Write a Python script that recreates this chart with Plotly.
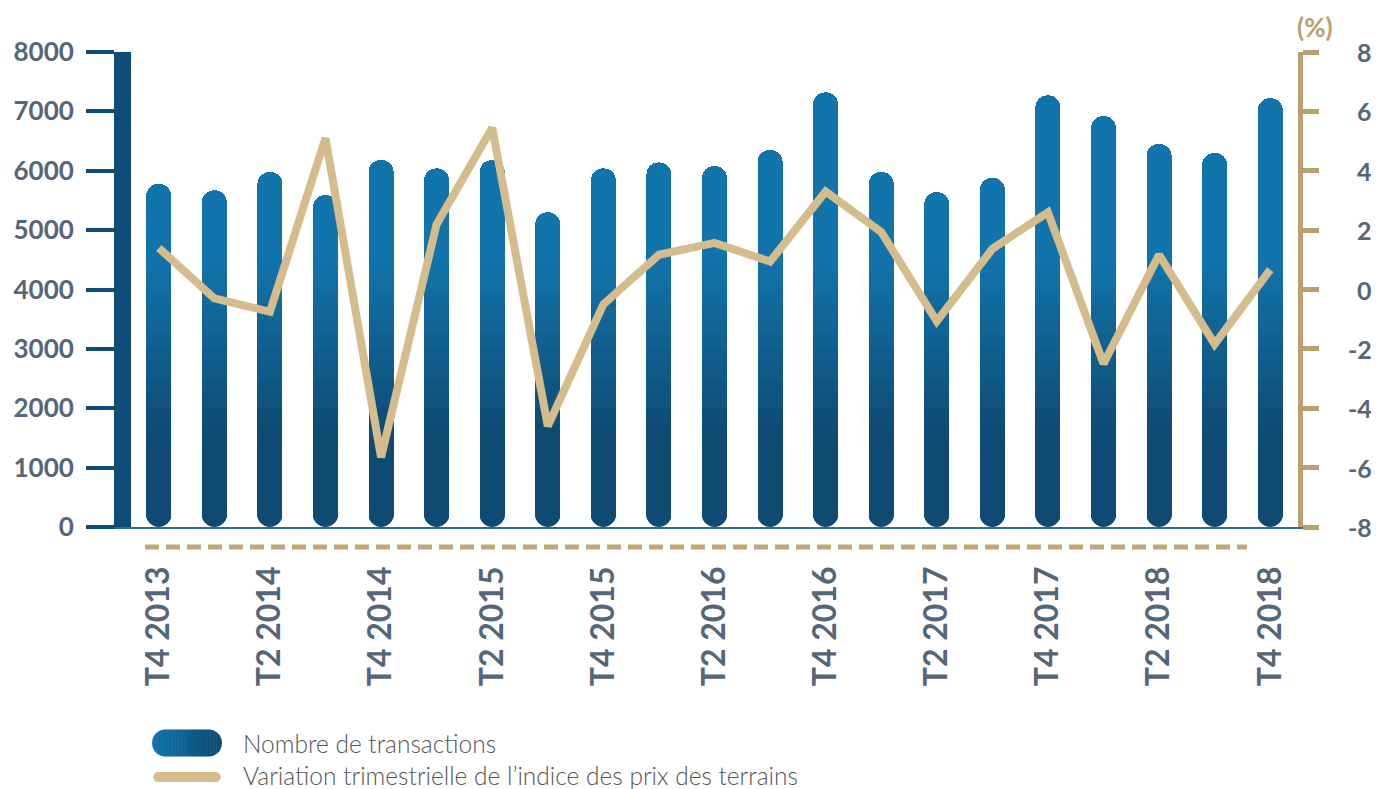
import math
import plotly.graph_objects as go

# ---------------- data ----------------
QUARTERS = ["T4 2013", "T1 2014", "T2 2014", "T3 2014", "T4 2014", "T1 2015", "T2 2015",
            "T3 2015", "T4 2015", "T1 2016", "T2 2016", "T3 2016", "T4 2016", "T1 2017",
            "T2 2017", "T3 2017", "T4 2017", "T1 2018", "T2 2018", "T3 2018", "T4 2018"]
TRANSACTIONS = [5780, 5670, 5980, 5590, 6180, 6040, 6180, 5300, 6040, 6140, 6080,
                6350, 7320, 5980, 5640, 5880, 7270, 6920, 6450, 6300, 7220]
PRICE_VAR = [1.4, -0.3, -0.75, 5.1, -5.65, 2.2, 5.45, -4.6, -0.5, 1.17, 1.57,
             0.94, 3.3, 1.94, -1.07, 1.37, 2.6, -2.5, 1.17, -1.84, 0.67]
X_TICKS = QUARTERS[::2]
LEFT_TICKS = [0, 1000, 2000, 3000, 4000, 5000, 6000, 7000, 8000]
RIGHT_TICKS = [-8, -6, -4, -2, 0, 2, 4, 6, 8]
LEGEND_BARS = "Nombre de transactions"
LEGEND_LINE = "Variation trimestrielle de l\u2019indice des prix des terrains"
UNIT_LABEL = "(%)"

# ---------------- style ----------------
PAGE_OFF = 8  # default body margin of the html page
W, H = 1379 - PAGE_OFF, 789 - PAGE_OFF
# plot area in page pixels
PL, PR, PT, PB = 131, 1298, 52, 527
DARK = (14, 74, 114)
BRIGHT = (17, 116, 171)
NAVY = "#0E4D78"
TAN_AXIS = "#B9A06E"
TAN_LINE = "#D4BC8C"
TAN_DASH = "#C4A674"
LABEL = "#556678"
FONT = "Lato"
BARGAP = 0.55


def mix(t):
    t = max(0.0, min(1.0, t))
    c = [round(DARK[i] + (BRIGHT[i] - DARK[i]) * t) for i in range(3)]
    return "rgb(%d,%d,%d)" % tuple(c)


def xp(px):
    return (px - PL) / (PR - PL)


def yp(py):
    return (PB - py) / (PB - PT)


fig = go.Figure()

# bars built as stacked vertical gradient segments
g0, g1 = 1500, 4500
levels = [0, g0] + list(range(g0 + 250, g1 + 1, 250)) + [10 ** 9]
for lo, hi in zip(levels[:-1], levels[1:]):
    seg = [max(0, min(v, hi) - lo) for v in TRANSACTIONS]
    mid = (lo + min(hi, g1 + 250)) / 2
    fig.add_trace(go.Bar(
        x=QUARTERS, y=seg, marker=dict(color=mix((mid - g0) / (g1 - g0)), line=dict(width=0)),
        hoverinfo="skip", showlegend=False, yaxis="y"))

fig.add_trace(go.Scatter(
    x=QUARTERS, y=PRICE_VAR, mode="lines", yaxis="y2",
    line=dict(color=TAN_LINE, width=8), showlegend=False, hoverinfo="skip"))

fig.update_layout(
    width=W, height=H,
    margin=dict(l=PL - PAGE_OFF, r=W - (PR - PAGE_OFF), t=PT - PAGE_OFF, b=H - (PB - PAGE_OFF)),
    paper_bgcolor="white", plot_bgcolor="white",
    barmode="stack", bargap=BARGAP, barcornerradius="50%",
    xaxis=dict(type="category", categoryorder="array", categoryarray=QUARTERS,
               range=[-0.5, len(QUARTERS) - 0.5], automargin=False,
               tickmode="array", tickvals=X_TICKS, ticktext=X_TICKS,
               tickangle=-90, ticks="", ticklabelstandoff=25,
               tickfont=dict(family=FONT, size=32, color=LABEL, weight="bold"),
               showgrid=False, zeroline=False,
               showline=True, linecolor="#2B6A96", linewidth=1.5),
    yaxis=dict(range=[0, 8000], tickmode="array", tickvals=LEFT_TICKS, automargin=False,
               showgrid=False, zeroline=False,
               showline=True, linecolor=NAVY, linewidth=17,
               ticks="outside", ticklen=28, tickwidth=4, tickcolor=NAVY,
               ticklabelstandoff=7,
               tickfont=dict(family=FONT, size=26, color=LABEL, weight="bold")),
    yaxis2=dict(range=[-8, 8], overlaying="y", side="right", automargin=False,
                tickmode="array", tickvals=RIGHT_TICKS, showticklabels=False,
                showgrid=False, zeroline=False,
                showline=True, linecolor=TAN_AXIS, linewidth=5,
                ticks="outside", ticklen=16, tickwidth=5, tickcolor=TAN_AXIS),
    font=dict(family=FONT),
)

shapes = []
# dashed decorative line below the axis
shapes.append(dict(type="line", xref="paper", yref="paper",
                   x0=xp(145), x1=xp(1247), y0=yp(547), y1=yp(547),
                   line=dict(color=TAN_DASH, width=5, dash="14px,7px")))

# round the bottom ends of the bars (white corner masks, placed on the category axis)
half = (1 - BARGAP) / 2            # half bar width, in category units
ry = half * (PR - PL) / len(QUARTERS) / (PB - PT)   # same radius in paper-y units
k = 0.5523
for i, _ in enumerate(QUARTERS):
    xl, xr = i - half, i + half
    eps = 0.01
    left = ("M%f,%f L%f,%f C%f,%f %f,%f %f,%f Z" %
            (xl - eps, 0, xl - eps, ry,
             xl, ry * (1 - k), xl + half * (1 - k), 0, xl + half, 0))
    right = ("M%f,%f L%f,%f C%f,%f %f,%f %f,%f Z" %
             (xr + eps, 0, xr + eps, ry,
              xr, ry * (1 - k), xr - half * (1 - k), 0, xr - half, 0))
    for pth in (left, right):
        shapes.append(dict(type="path", xref="x", yref="paper", path=pth,
                           fillcolor="white", line=dict(width=0), layer="above"))


def pill_bounds(x, x0, x1, yc, r):
    if x < x0 + r:
        dx = x0 + r - x
    elif x > x1 - r:
        dx = x - (x1 - r)
    else:
        dx = 0.0
    dy = math.sqrt(max(0.0, r * r - dx * dx))
    return yc - dy, yc + dy


def pill_slice(sx0, sx1, x0, x1, yc, r, steps=6):
    xs = [sx0 + (sx1 - sx0) * j / steps for j in range(steps + 1)]
    top = [(x, pill_bounds(x, x0, x1, yc, r)[0]) for x in xs]
    bot = [(x, pill_bounds(x, x0, x1, yc, r)[1]) for x in reversed(xs)]
    pts = top + bot
    return "M" + " L".join("%f,%f" % (xp(x), yp(y)) for x, y in pts) + " Z"


# legend: blue pill with horizontal gradient
px0, px1, pyc, ph = 152, 222, 743, 27
n = 24
for i in range(n):
    sx0 = px0 + (px1 - px0) * i / n
    sx1 = px0 + (px1 - px0) * (i + 1) / n + (0.5 if i < n - 1 else 0)
    shapes.append(dict(type="path", xref="paper", yref="paper",
                       path=pill_slice(sx0, sx1, px0, px1, pyc, ph / 2),
                       fillcolor=mix(1 - i / (n - 1)), line=dict(width=0), layer="above"))
# legend: tan line
shapes.append(dict(type="path", xref="paper", yref="paper",
                   path=pill_slice(153, 221, 153, 221, 777, 5, steps=40),
                   fillcolor=TAN_LINE, line=dict(width=0), layer="above"))
fig.update_layout(shapes=shapes)

ann = [
    dict(text=LEGEND_BARS, x=xp(241), y=yp(743), xref="paper", yref="paper",
         xanchor="left", yanchor="middle", showarrow=False,
         font=dict(family=FONT, size=24.5, color="#555555", weight=300)),
    dict(text=LEGEND_LINE, x=xp(241), y=yp(775), xref="paper", yref="paper",
         xanchor="left", yanchor="middle", showarrow=False,
         font=dict(family=FONT, size=24.5, color="#555555", weight=300)),
    dict(text=UNIT_LABEL, x=xp(1315), y=yp(27), xref="paper", yref="paper",
         xanchor="center", yanchor="middle", showarrow=False,
         font=dict(family=FONT, size=26, color=TAN_AXIS, weight="bold")),
]
# right-axis tick labels, right aligned like the reference
for v in RIGHT_TICKS:
    ann.append(dict(text=str(v), x=xp(1374), y=v, xref="paper", yref="y2",
                    xanchor="right", yanchor="middle", showarrow=False,
                    font=dict(family=FONT, size=25, color=LABEL, weight="bold")))
fig.update_layout(annotations=ann)

fig.write_html("out.html")
